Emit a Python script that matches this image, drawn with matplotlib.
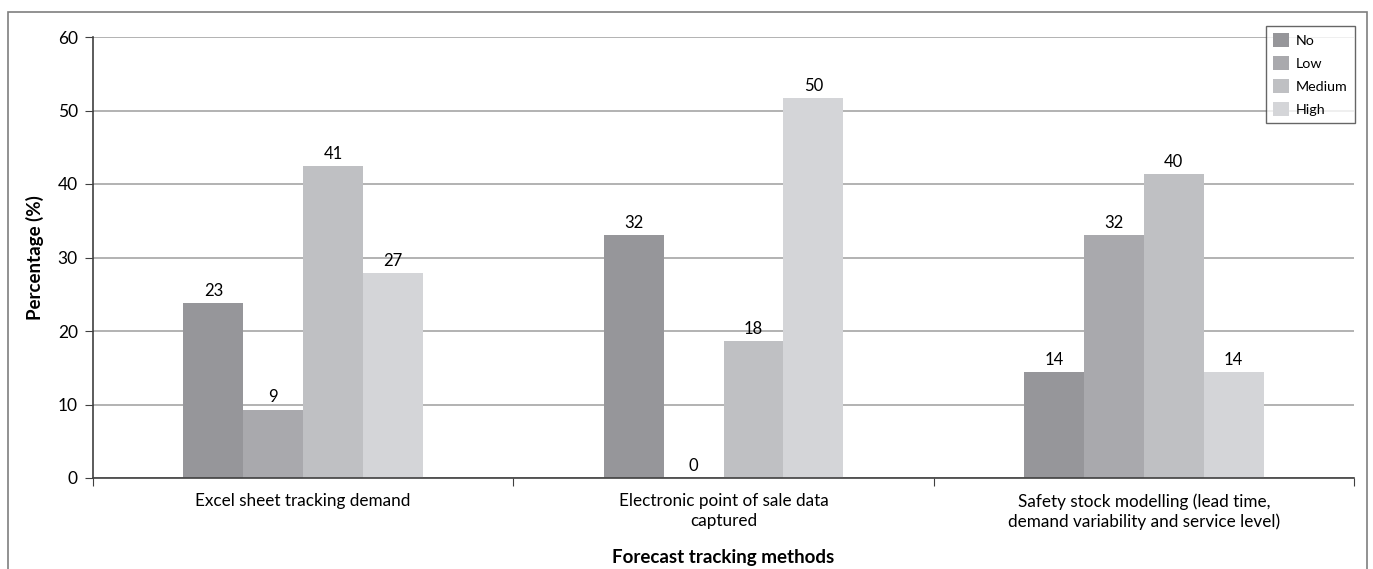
import matplotlib.pyplot as plt
import numpy as np
from matplotlib.patches import Rectangle

plt.rcParams['font.family'] = ['Lato', 'DejaVu Sans']

# categories and series
methods = ['Excel sheet tracking demand',
           'Electronic point of sale data\ncaptured',
           'Safety stock modelling (lead time,\ndemand variability and service level)']
levels = ['No', 'Low', 'Medium', 'High']
colors = ['#96969a', '#a9a9ad', '#bfc0c3', '#d4d5d8']

# bar heights as drawn, and the printed labels
heights = {
    'No':     [23.8, 33.1, 14.4],
    'Low':    [9.3, 0.0, 33.1],
    'Medium': [42.4, 18.6, 41.4],
    'High':   [27.9, 51.7, 14.4],
}
labels = {
    'No':     [23, 32, 14],
    'Low':    [9, 0, 32],
    'Medium': [41, 18, 40],
    'High':   [27, 50, 14],
}

fig = plt.figure(figsize=(13.73, 5.69), dpi=100)
ax = fig.add_axes([93 / 1373, 1 - 478 / 569, (1354 - 93) / 1373, (478 - 37) / 569])

x = np.arange(len(methods))
w = 0.1425
for i, lev in enumerate(levels):
    pos = x + (i - 1.5) * w
    ax.bar(pos, heights[lev], width=w, color=colors[i], label=lev, zorder=2)
    for p, h, lab in zip(pos, heights[lev], labels[lev]):
        ax.annotate(str(lab), (p, h), xytext=(0, 3), textcoords='offset points',
                    ha='center', va='bottom', fontsize=12)

ax.set_xlim(-0.5, 2.5)
ax.set_ylim(0, 60)
ax.set_yticks(range(0, 61, 10))
ax.yaxis.grid(True, color='#a6a6a6', linewidth=1.2, zorder=0)
ax.set_axisbelow(True)

# category labels between boundary ticks
ax.set_xticks([-0.5, 0.5, 1.5, 2.5])
ax.set_xticklabels([])
ax.set_xticks(x, minor=True)
ax.set_xticklabels(methods, minor=True, fontsize=12.3, linespacing=1.3)
ax.tick_params(axis='x', which='minor', length=0, pad=11)
ax.tick_params(axis='x', which='major', length=6, color='#404040')
ax.tick_params(axis='y', length=6, color='#404040', labelsize=12.5, pad=5)

for s in ['top', 'right']:
    ax.spines[s].set_visible(False)
ax.spines['left'].set_color('#404040')
ax.spines['bottom'].set_color('#404040')
ax.spines['left'].set_linewidth(1.2)
ax.spines['bottom'].set_linewidth(1.2)

ax.set_ylabel('Percentage (%)', fontsize=13.5, fontweight='bold', labelpad=10)
ax.set_xlabel('Forecast tracking methods', fontsize=13.5, fontweight='bold', labelpad=13)

leg = ax.legend(loc='upper right', bbox_to_anchor=(1362 / 1373, 1 - 19 / 569),
                bbox_transform=fig.transFigure, fontsize=10.3, frameon=True,
                fancybox=False, edgecolor='#404040', handlelength=1.1,
                handleheight=1.1, labelspacing=0.65, borderpad=0.5,
                handletextpad=0.5)
leg.get_frame().set_linewidth(1.0)

# outer frame of the figure (open at the bottom)
fig.patches.append(Rectangle((8 / 1373, -0.05), (1367 - 8) / 1373, 1 - 12 / 569 + 0.05,
                             transform=fig.transFigure, fill=False,
                             edgecolor='#7f7f7f', linewidth=1.2))

fig.savefig('out.png', dpi=100)
